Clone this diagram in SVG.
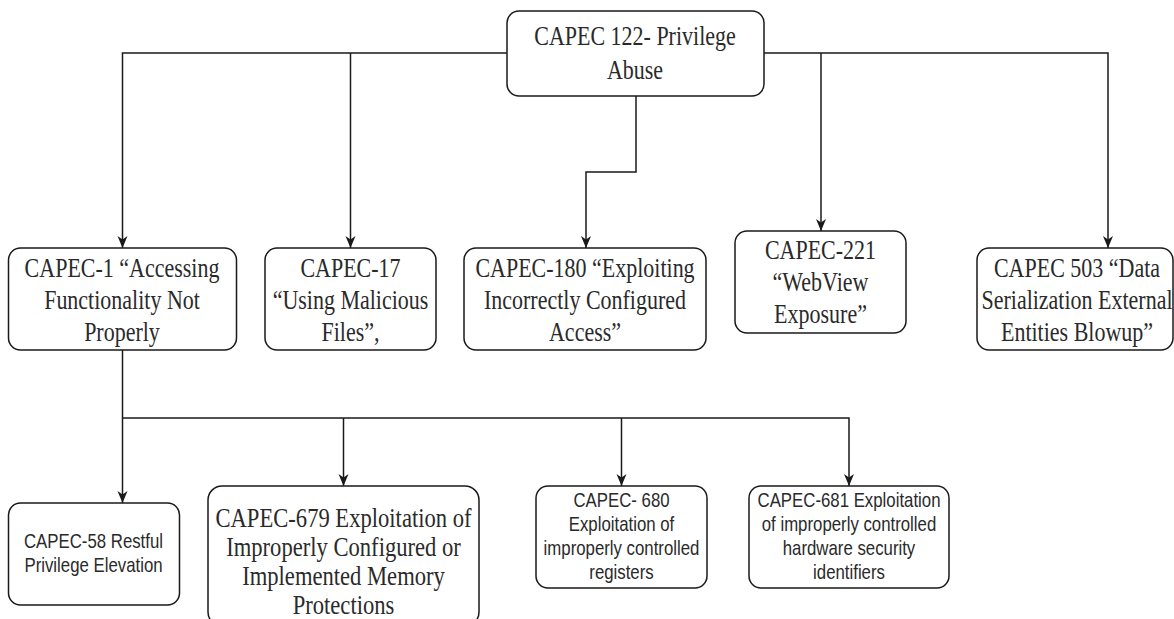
<svg xmlns="http://www.w3.org/2000/svg" width="1174" height="619" viewBox="0 0 1174 619">
<style>
.box{fill:#ffffff;stroke:#1a1a1a;stroke-width:1.5}
.serif{font-family:"Liberation Serif","Times New Roman",serif;font-size:22px;fill:#2a2a2a;text-anchor:middle}
.sans{font-family:"Liberation Sans",Arial,sans-serif;font-size:16.8px;fill:#2a2a2a;text-anchor:middle}
.edge{fill:none;stroke:#1a1a1a;stroke-width:1.5;marker-end:url(#arr)}
</style>
<defs>
<marker id="arr" viewBox="0 0 12 12" refX="12" refY="6" markerWidth="12" markerHeight="12" markerUnits="userSpaceOnUse" orient="auto">
<path d="M0,1 L12,6 L0,11 L3.5,6 z" fill="#1a1a1a"/>
</marker>
</defs>
<rect width="1174" height="619" fill="#ffffff"/>
<g id="connectors">
<path class="edge" d="M507,53 H122.5 V248"/>
<path class="edge" d="M350.5,53 V248"/>
<path class="edge" d="M636,96 V172 H586 V248"/>
<path class="edge" d="M764,53 H1108 V248"/>
<path class="edge" d="M821,53 V231"/>
<path class="edge" d="M122.5,350 V418 H122.5 V503"/>
<path class="edge" d="M122.5,418 H849 V486"/>
<path class="edge" d="M343.5,418 V486"/>
<path class="edge" d="M621.5,418 V486"/>
</g>
<g id="root">
<rect class="box" x="507" y="11" width="257" height="85" rx="12"/>
<text class="serif" transform="translate(635,45) scale(1,1.2)"><tspan x="0" y="0">CAPEC 122- Privilege</tspan><tspan x="0" dy="28.3">Abuse</tspan></text>
</g>
<g id="capec1">
<rect class="box" x="8.5" y="248" width="228" height="102" rx="12"/>
<text class="serif" transform="translate(122,277) scale(1,1.2)"><tspan x="0" y="0">CAPEC-1 “Accessing</tspan><tspan x="0" dy="26.7">Functionality Not</tspan><tspan x="0" dy="26.7">Properly</tspan></text>
</g>
<g id="capec17">
<rect class="box" x="265" y="248" width="171" height="102" rx="12"/>
<text class="serif" transform="translate(350.5,277) scale(1,1.2)"><tspan x="0" y="0">CAPEC-17</tspan><tspan x="0" dy="26.7">“Using Malicious</tspan><tspan x="0" dy="26.7">Files”,</tspan></text>
</g>
<g id="capec180">
<rect class="box" x="464" y="248" width="242" height="102" rx="12"/>
<text class="serif" transform="translate(585,277) scale(1,1.2)"><tspan x="0" y="0">CAPEC-180 “Exploiting</tspan><tspan x="0" dy="26.7">Incorrectly Configured</tspan><tspan x="0" dy="26.7">Access”</tspan></text>
</g>
<g id="capec221">
<rect class="box" x="735" y="231" width="171" height="102" rx="12"/>
<text class="serif" transform="translate(820.5,259) scale(1,1.2)"><tspan x="0" y="0">CAPEC-221</tspan><tspan x="0" dy="26.7">“WebView</tspan><tspan x="0" dy="26.7">Exposure”</tspan></text>
</g>
<g id="capec503">
<rect class="box" x="977" y="248" width="196" height="102" rx="12"/>
<text class="serif" transform="translate(1077,277) scale(1,1.2)"><tspan x="0" y="0">CAPEC 503 “Data</tspan><tspan x="0" dy="26.7">Serialization External</tspan><tspan x="0" dy="26.7">Entities Blowup”</tspan></text>
</g>
<g id="capec58">
<rect class="box" x="8.5" y="503" width="171" height="102" rx="12"/>
<text class="sans" transform="translate(93.5,548) scale(1,1.2)"><tspan x="0" y="0">CAPEC-58 Restful</tspan><tspan x="0" dy="20">Privilege Elevation</tspan></text>
</g>
<g id="capec679">
<rect class="box" x="208" y="486" width="271" height="140" rx="14"/>
<text class="serif" transform="translate(343.5,527) scale(1,1.2)" style="font-size:22.6px"><tspan x="0" y="0">CAPEC-679 Exploitation of</tspan><tspan x="0" dy="24.3">Improperly Configured or</tspan><tspan x="0" dy="24.3">Implemented Memory</tspan><tspan x="0" dy="24.3">Protections</tspan></text>
</g>
<g id="capec680">
<rect class="box" x="536" y="486" width="171" height="102" rx="12"/>
<text class="sans" transform="translate(621.5,507) scale(1,1.2)"><tspan x="0" y="0">CAPEC- 680</tspan><tspan x="0" dy="20">Exploitation of</tspan><tspan x="0" dy="20">improperly controlled</tspan><tspan x="0" dy="20">registers</tspan></text>
</g>
<g id="capec681">
<rect class="box" x="749" y="486" width="200" height="102" rx="12"/>
<text class="sans" transform="translate(849,507) scale(1,1.2)"><tspan x="0" y="0">CAPEC-681 Exploitation</tspan><tspan x="0" dy="20">of improperly controlled</tspan><tspan x="0" dy="20">hardware security</tspan><tspan x="0" dy="20">identifiers</tspan></text>
</g>
</svg>
